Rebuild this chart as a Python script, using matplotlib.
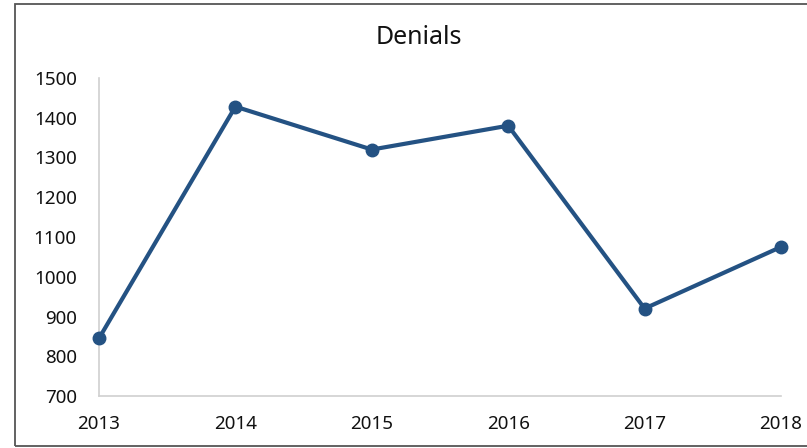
import matplotlib
matplotlib.use("Agg")
import matplotlib.pyplot as plt
from matplotlib.patches import Rectangle

years = ["2013", "2014", "2015", "2016", "2017", "2018"]
denials = [845, 1428, 1320, 1380, 920, 1075]
yticks = [700, 800, 900, 1000, 1100, 1200, 1300, 1400, 1500]

plt.rcParams["font.family"] = ["Noto Sans", "DejaVu Sans"]

fig = plt.figure(figsize=(8.07, 4.48), dpi=100)
ax = fig.add_axes([99 / 807, 1 - 396 / 448, (781 - 99) / 807, (396 - 78) / 448])

x = list(range(len(years)))
ax.plot(x, denials, color="#245283", linewidth=3.0, marker="o", markersize=9,
        solid_capstyle="round", clip_on=False, zorder=3)

ax.set_xlim(0, len(years) - 1)
ax.set_ylim(700, 1500)
ax.set_xticks(x)
ax.set_xticklabels(years)
ax.set_yticks(yticks)
ax.tick_params(axis="both", length=0, labelsize=13.5, colors="#111111")
ax.tick_params(axis="x", pad=14)
ax.tick_params(axis="y", pad=16)

for side in ["top", "right"]:
    ax.spines[side].set_visible(False)
for side in ["left", "bottom"]:
    ax.spines[side].set_color("#d0d0d0")
    ax.spines[side].set_linewidth(1.2)

fig.text(419 / 807, 1 - 37 / 448, "Denials", ha="center", va="center",
         fontsize=18, color="#111111")

# chart area border
fig.patches.append(Rectangle((15 / 807, 2 / 448), 1.0, 442 / 448,
                             transform=fig.transFigure, fill=False,
                             edgecolor="#555555", linewidth=1.3))

fig.savefig("out.png", dpi=100)
